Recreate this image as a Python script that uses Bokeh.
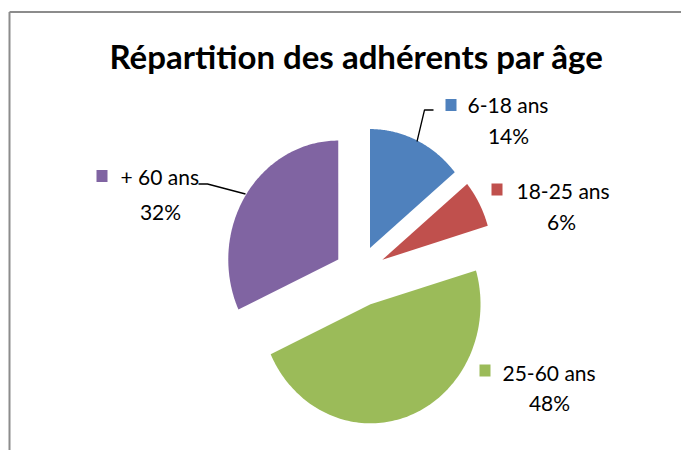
import numpy as np
from bokeh.plotting import figure
from bokeh.models import Range1d
from bokeh.core.properties import value
from bokeh.embed import file_html
from bokeh.resources import INLINE

# ---- data ----
title = "Répartition  des adhérents par âge"
categories = ["6-18 ans", "18-25 ans", "25-60 ans", "+ 60 ans"]
shares = [14.0, 6.4, 47.7, 31.9]          # percent
colors = ["#4F81BD", "#C0504D", "#9BBB59", "#8064A2"]

# ---- layout / style (pixel coordinates of the picture) ----
W, H = 681, 450
center = (358.0, 272.0)
rx, ry = 110.0, 119.0
explode = [27, 27, 34, 24]
FONT = "Lato"

p = figure(width=W, height=H, output_backend="svg", toolbar_location=None,
           x_range=Range1d(0, W), y_range=Range1d(H, 0),
           min_border=0, outline_line_color=None)
p.axis.visible = False
p.grid.visible = False
p.background_fill_color = "white"
p.border_fill_color = "white"

# chart border (left and top edges visible)
p.multi_line(xs=[[9, 9], [9, 720]], ys=[[500, 11.5], [11.5, 11.5]],
             line_color="#8C8C8C", line_width=2)

# wedges
total = sum(shares)
fr = np.array(shares) / total
ends = np.cumsum(fr) * 2 * np.pi
starts = ends - fr * 2 * np.pi
xs, ys = [], []
for s, e, d in zip(starts, ends, explode):
    mid = (s + e) / 2
    cx = center[0] + d * np.sin(mid)
    cy = center[1] - d * np.cos(mid)
    t = np.linspace(s, e, 120)
    xs.append(list(np.concatenate([[cx], cx + rx * np.sin(t)])))
    ys.append(list(np.concatenate([[cy], cy - ry * np.cos(t)])))
p.patches(xs=xs, ys=ys, fill_color=colors, line_color=None)

# title
p.text(x=[360], y=[55], text=[title], text_font=value(FONT),
       text_font_style="bold", text_font_size="33px",
       text_align="center", text_baseline="alphabetic", text_color="black")

# labels
sq = [(445, 98.5), (491, 183), (479, 364), (96, 169.5)]
name_pos = [(467, 104), (516, 190), (502, 372), (120, 176)]
pct_pos = [(508, 135), (561, 221), (549, 402), (160, 211)]
pct_text = [f"{round(v / total * 100)}%" for v in shares]

p.rect(x=[a + 5.5 for a, b in sq], y=[b + 6 for a, b in sq], width=11, height=12,
       fill_color=colors, line_color=None)
p.text(x=[a for a, b in name_pos], y=[b for a, b in name_pos], text=categories,
       text_font=value(FONT), text_font_size="21px", text_align="left",
       text_baseline="alphabetic", text_color="black")
p.text(x=[a for a, b in pct_pos], y=[b for a, b in pct_pos], text=pct_text,
       text_font=value(FONT), text_font_size="21px", text_align="center",
       text_baseline="alphabetic", text_color="black")

# leader lines
p.multi_line(xs=[[416.5, 424, 433], [198, 207, 245]],
             ys=[[141, 109.5, 109.5], [183.5, 183.5, 193.5]],
             line_color="black", line_width=1.3)

open("out.html", "w").write(file_html(p, INLINE))
